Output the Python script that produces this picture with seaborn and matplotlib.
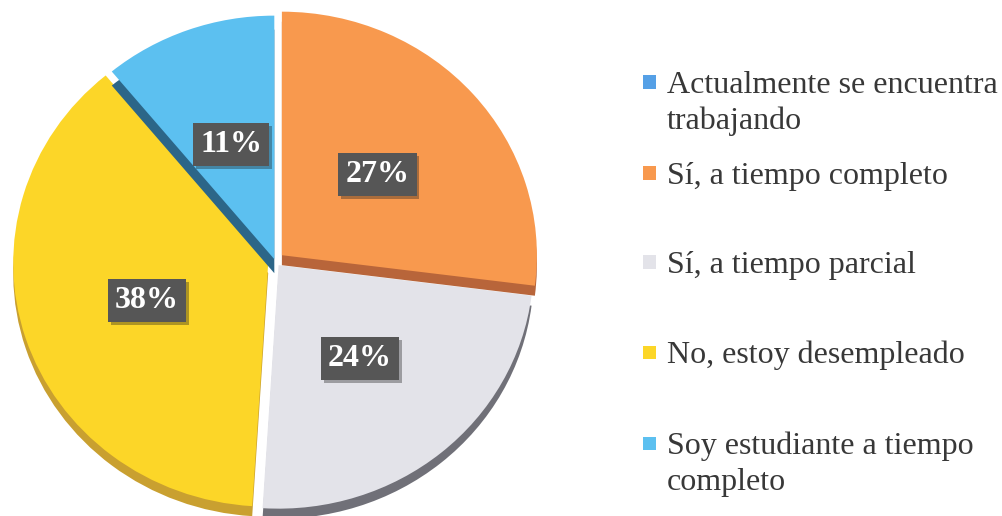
import numpy as np
import pandas as pd
import matplotlib.pyplot as plt
import matplotlib.patheffects as pe
import seaborn as sns
from matplotlib.patches import Rectangle

# datos
categorias = ["Actualmente se encuentra\ntrabajando", "Sí, a tiempo completo",
              "Sí, a tiempo parcial", "No, estoy desempleado",
              "Soy estudiante a tiempo\ncompleto"]
porcentajes = [0, 27, 24, 38, 11]
colores = ["#55A0E6", "#F8994E", "#E3E3E9", "#FCD628", "#5CC0F0"]
colores_lado = ["#2F6A95", "#B8653A", "#707078", "#C9A030", "#2C6688"]
separacion = [0, 0.036, 0.022, 0.028, 0.008]

sns.set_theme(style="white")
plt.rcParams['font.family'] = ['Liberation Serif', 'DejaVu Serif']

fig = plt.figure(figsize=(10.02, 5.16), dpi=100)
ax = fig.add_axes([0, 0, 1, 1])

escala = 0.955          # pastel un poco aplastado (vista 3D)
cx, cy = 275, (516 - 261) / escala
radio = 255
fondo = 10 / escala
expl = [s * radio for s in separacion]


def etiqueta(p):
    if p < 0.5:
        return ''
    return '%d%%' % round(p)


# cara lateral (profundidad)
lados, _ = ax.pie(porcentajes, colors=colores_lado, explode=expl,
                  startangle=90, counterclock=False, radius=radio,
                  center=(cx, cy - fondo), wedgeprops=dict(linewidth=0))
# cara superior
caras, _, textos = ax.pie(porcentajes, colors=colores, explode=expl,
                          startangle=90, counterclock=False, radius=radio,
                          center=(cx, cy), autopct=etiqueta, pctdistance=0.5,
                          wedgeprops=dict(linewidth=0),
                          textprops=dict(color='white', fontsize=23,
                                         fontweight='bold'))

# el lado celeste se ve un poco mas grueso
c = lados[4].center
lados[4].set_center((c[0], c[1] - 4 / escala))

# orden de dibujo: naranja y celeste encima de gris y amarillo
capas = [0, 3, 1, 1, 3]
for i in range(len(porcentajes)):
    lados[i].set_zorder(capas[i])
    caras[i].set_zorder(capas[i] + 1)

for t in textos:
    t.set_zorder(10)
    t.set_bbox(dict(boxstyle='square,pad=0.22', fc='#565656', ec='none'))
    t.get_bbox_patch().set_path_effects(
        [pe.SimplePatchShadow(offset=(2, -2), alpha=0.35), pe.Normal()])

ax.set_aspect('auto')
ax.set_xlim(0, 1002)
ax.set_ylim(0, 516 / escala)
ax.axis('off')

# leyenda a mano (el cuadro va con la primera linea)
lineas_y = [82, 173, 262, 352, 443]
for cat, col, y in zip(categorias, colores, lineas_y):
    fig.patches.append(Rectangle((643 / 1002, 1 - (y + 6.5) / 516), 13 / 1002, 13 / 516,
                                 transform=fig.transFigure, fc=col, ec='none'))
    for k, linea in enumerate(cat.split('\n')):
        fig.text(667 / 1002, 1 - (y + 11 + 36 * k) / 516, linea, fontsize=23,
                 color='#383838', va='baseline', ha='left')

plt.savefig('out.png', dpi=100)
